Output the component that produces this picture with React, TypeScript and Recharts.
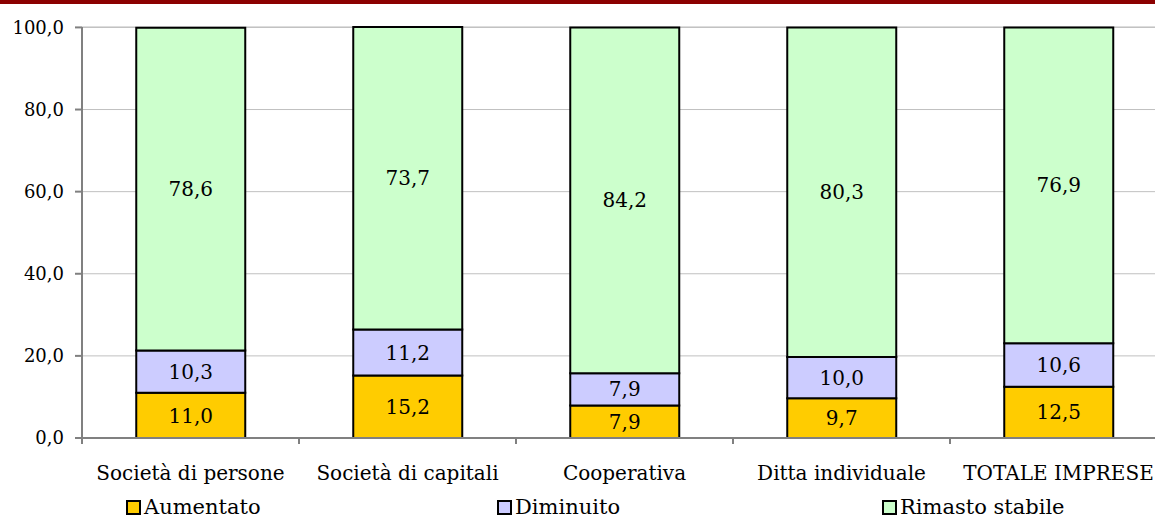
import React from 'react';
import { BarChart, Bar, XAxis, YAxis, CartesianGrid, LabelList, Legend } from 'recharts';

const categories = ['Società di persone', 'Società di capitali', 'Cooperativa', 'Ditta individuale', 'TOTALE IMPRESE'];
const aumentato = [11.0, 15.2, 7.9, 9.7, 12.5];
const diminuito = [10.3, 11.2, 7.9, 10.0, 10.6];
const rimastoStabile = [78.6, 73.7, 84.2, 80.3, 76.9];
const yTicks = [0, 20, 40, 60, 80, 100];

const seriesKeys = ['aumentato', 'diminuito', 'rimastoStabile'];
const seriesNames = ['Aumentato', 'Diminuito', 'Rimasto stabile'];
const seriesColors = ['#FFCC00', '#CCCCFF', '#CCFFCC'];

// layout
const CHART_W = 1167;
const CHART_H = 518;
const Y_AXIS_W = 82;
const PLOT_TOP = 27;
const PLOT_BOTTOM = 438;
const BAND = (CHART_W - Y_AXIS_W) / categories.length;
const LEGEND_LEFT = [126, 497, 882];
const FONT = 'DejaVu Serif';

const data = categories.map((name, i) => ({
  name,
  aumentato: aumentato[i],
  diminuito: diminuito[i],
  rimastoStabile: rimastoStabile[i],
}));

const fmt = (v: any) => Number(v).toFixed(1).replace('.', ',');

const CategoryTick = (props: any) => {
  const { x, payload } = props;
  return (
    <g>
      <line x1={x - BAND / 2} x2={x - BAND / 2} y1={PLOT_BOTTOM} y2={PLOT_BOTTOM + 6} stroke="#808080" strokeWidth={2} />
      <text x={x} y={PLOT_BOTTOM + 42} textAnchor="middle" fill="#000" fontSize={20} fontFamily={FONT}>
        {payload.value}
      </text>
    </g>
  );
};

const LegendContent = () => (
  <div style={{ position: 'relative', height: 30, fontFamily: FONT, fontSize: 21, color: '#000' }}>
    {seriesNames.map((n, i) => (
      <div key={n} style={{ position: 'absolute', left: LEGEND_LEFT[i], top: 7, display: 'flex', alignItems: 'center', whiteSpace: 'nowrap' }}>
        <span style={{ display: 'inline-block', width: 11, height: 11, background: seriesColors[i], border: '2px solid #000', marginRight: 3 }} />
        <span>{n}</span>
      </div>
    ))}
  </div>
);

const App: React.FC = () => {
  return (
    <div style={{ position: 'fixed', left: 0, top: 0, width: 1155, height: 518, overflow: 'hidden', background: '#fff', fontFamily: FONT }}>
      <div style={{ position: 'absolute', left: 0, top: 0, width: 1155, height: 4, background: '#8B0000' }} />
      <BarChart
        width={CHART_W}
        height={CHART_H}
        data={data}
        margin={{ top: PLOT_TOP, right: 0, left: 0, bottom: 0 }}
        barCategoryGap="25%"
        style={{ fontFamily: FONT }}
      >
        <CartesianGrid vertical={false} stroke="#c0c0c0" />
        <XAxis
          dataKey="name"
          height={50}
          tickLine={false}
          axisLine={{ stroke: '#808080', strokeWidth: 2 }}
          tick={<CategoryTick />}
          interval={0}
        />
        <YAxis
          width={Y_AXIS_W}
          domain={[0, 100]}
          ticks={yTicks}
          tickFormatter={fmt}
          axisLine={{ stroke: '#808080', strokeWidth: 2 }}
          tickLine={{ stroke: '#808080', strokeWidth: 2 }}
          tickSize={7}
          tickMargin={11}
          tick={{ fill: '#000', fontSize: 18, fontFamily: FONT }}
        />
        <Legend verticalAlign="bottom" height={30} wrapperStyle={{ left: 0, width: CHART_W }} content={<LegendContent />} />
        {seriesKeys.map((k, i) => (
          <Bar key={k} dataKey={k} name={seriesNames[i]} stackId="a" fill={seriesColors[i]} stroke="#000" strokeWidth={2} isAnimationActive={false}>
            <LabelList dataKey={k} position="center" formatter={fmt} fill="#000" fontSize={20} fontFamily={FONT} />
          </Bar>
        ))}
      </BarChart>
    </div>
  );
};

export default App;
